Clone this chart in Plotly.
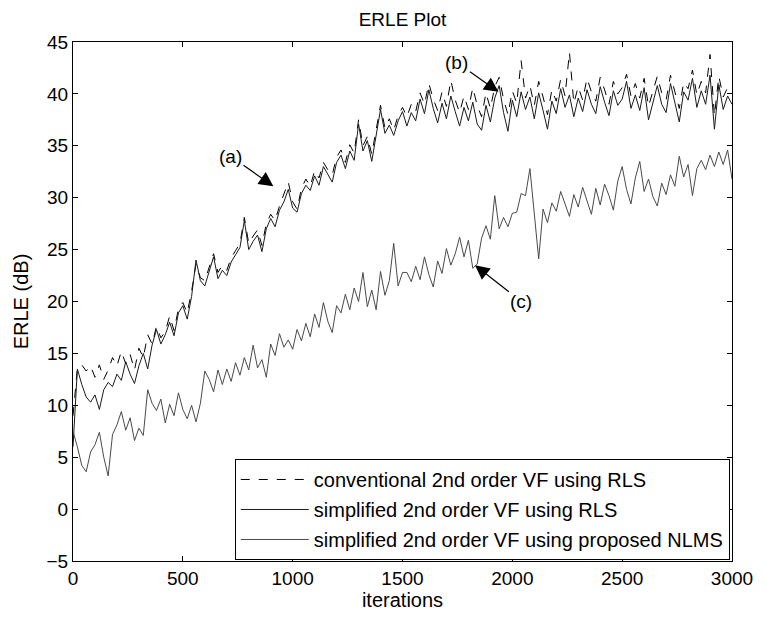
import plotly.graph_objects as go

iterations = list(range(0, 3001, 20))

erle_conventional_rls = [
    9.0, 13.6, 13.9, 13.3, 13.8, 12.7, 13.9, 12.5, 13.4, 14.6,
    13.8, 15.2, 14.0, 14.9, 13.4, 15.5, 14.6, 16.8, 15.9, 17.6,
    16.5, 17.1, 18.6, 17.2, 19.3, 19.9, 18.9, 21.0, 23.6, 22.3,
    22.0, 23.4, 24.6, 22.8, 23.5, 23.0, 24.2, 24.9, 25.6, 28.1,
    25.6, 26.3, 26.9, 25.4, 27.5, 28.4, 27.8, 29.2, 30.4, 31.5,
    29.6, 28.9, 30.9, 31.8, 31.1, 32.6, 31.9, 33.4, 32.7, 32.2,
    33.9, 34.6, 33.4, 35.1, 34.3, 37.5, 35.0, 35.9, 34.2, 36.5,
    38.9, 36.7, 37.6, 36.5, 37.9, 38.7, 37.8, 39.0, 38.3, 40.1,
    39.0, 41.0, 39.5, 38.4, 40.2, 38.8, 41.3, 39.4, 38.2, 39.8,
    38.5, 40.6, 38.9, 37.8, 40.1, 38.6, 40.7, 41.6, 39.5, 38.0,
    40.3, 39.1, 43.2, 39.6, 40.8, 38.9, 41.2, 39.7, 38.0, 40.4,
    39.3, 41.4, 39.8, 44.0, 39.1, 40.7, 39.4, 41.5, 40.2, 39.3,
    41.6, 40.4, 39.0, 41.2, 40.0, 40.6, 41.9, 39.8, 41.0, 39.6,
    41.5, 38.8, 40.3, 41.7, 40.1, 39.4, 41.8, 40.2, 38.6, 41.1,
    40.5, 42.3, 39.9, 41.2, 40.1, 43.8, 37.9, 41.7, 39.7, 40.6,
    40.0,
]

erle_simplified_rls = [
    6.0, 13.5, 12.0, 10.8, 10.3, 11.0, 9.6, 11.5, 12.2, 11.8,
    13.0, 12.4, 14.2, 13.0, 12.1, 13.8, 15.0, 13.5, 15.8, 17.3,
    15.9, 16.8, 18.0, 16.7, 18.9, 19.6, 18.3, 20.5, 24.0, 22.0,
    21.5, 23.0, 24.3, 22.2, 23.0, 22.5, 23.8, 24.5, 25.2, 27.8,
    25.0, 25.8, 26.4, 24.8, 27.0, 28.0, 27.2, 28.8, 29.6, 30.8,
    29.0, 28.6, 30.4, 31.2, 30.7, 32.1, 31.2, 33.0, 32.2, 31.5,
    33.4, 34.1, 32.8, 34.5, 33.6, 37.1, 34.5, 35.5, 33.5, 36.0,
    38.5, 36.2, 37.0, 36.0, 37.4, 38.3, 36.9, 38.2, 37.4, 39.5,
    38.1, 40.4, 38.6, 37.2, 39.1, 37.6, 39.8, 38.3, 36.9, 38.7,
    37.4, 39.2, 37.1, 36.5, 38.9, 37.3, 39.6, 40.8, 38.2, 36.4,
    39.4, 37.8, 40.2, 38.5, 39.7, 37.6, 40.1, 38.4, 36.6, 39.3,
    38.1, 40.5, 38.7, 39.9, 37.8, 39.6, 38.3, 40.4, 39.0, 38.1,
    40.7, 39.2, 37.9, 40.3, 38.9, 39.5, 41.2, 38.6, 39.9, 38.4,
    40.6, 37.5, 39.2, 40.8, 39.0, 38.2, 41.0, 39.1, 37.3, 40.2,
    39.4, 41.5, 38.7, 40.3, 39.0, 41.8, 36.6, 40.9, 38.5, 39.8,
    39.0,
]

erle_proposed_nlms = [
    7.5, 6.0, 4.2, 3.6, 5.5, 6.2, 7.4, 5.0, 3.2, 7.2,
    8.1, 9.4, 7.6, 8.8, 6.6, 7.8, 7.1, 11.5, 10.2, 9.5,
    10.6, 8.3, 10.1, 9.0, 11.2, 9.6, 8.7, 10.0, 8.4, 10.2,
    13.3, 12.5, 11.3, 13.4, 12.0, 13.5, 12.3, 14.1, 12.9, 14.6,
    13.4, 15.8, 13.6, 14.4, 12.7, 15.9, 14.8, 16.9, 15.6, 16.3,
    15.4, 17.3, 16.2, 17.9, 16.6, 18.8, 17.5, 19.9, 18.1, 17.0,
    19.6, 18.9, 20.7, 19.2, 21.3, 20.0, 22.8, 19.5, 21.1, 19.2,
    22.9, 20.6, 22.0, 25.6, 21.5, 22.8, 22.8, 21.9, 23.4, 22.1,
    24.3, 22.6, 21.4, 23.9, 22.7, 25.1, 23.5, 24.6, 26.2, 24.3,
    25.9, 23.2, 23.6, 26.1, 27.3, 26.0, 30.2, 27.0, 28.1, 27.2,
    28.5, 28.6, 30.4, 30.2, 32.8, 28.3, 24.1, 28.9, 27.6, 29.5,
    28.7, 30.6, 29.4, 28.2, 30.3, 29.1, 31.0, 29.6, 28.4, 30.9,
    29.3, 31.3, 30.2, 28.8, 31.6, 33.0, 30.8, 29.4, 31.9, 33.5,
    30.6, 31.8, 30.1, 29.2, 31.4, 30.3, 32.2, 31.1, 34.0, 32.0,
    33.2, 30.2, 32.8, 33.6, 32.7, 34.1, 33.0, 34.4, 33.2, 34.6,
    31.8,
]

series_names = [
    "conventional 2nd order VF using RLS",
    "simplified 2nd order VF using RLS",
    "simplified 2nd order VF using proposed NLMS",
]

x_ticks = [0, 500, 1000, 1500, 2000, 2500, 3000]
y_ticks = [-5, 0, 5, 10, 15, 20, 25, 30, 35, 40, 45]

FONT = "Liberation Sans, Arial, Helvetica, sans-serif"

fig = go.Figure()
fig.add_trace(go.Scatter(
    x=iterations[:len(erle_conventional_rls)], y=erle_conventional_rls,
    mode="lines", name=series_names[0], legendgroup="a",
    line=dict(color="#000000", width=1, dash="dash"),
))
fig.add_trace(go.Scatter(
    x=iterations[:len(erle_simplified_rls)], y=erle_simplified_rls,
    mode="lines", name=series_names[1], legendgroup="b",
    line=dict(color="#1a1a1a", width=1),
))
fig.add_trace(go.Scatter(
    x=iterations[:len(erle_proposed_nlms)], y=erle_proposed_nlms,
    mode="lines", name=series_names[2], legendgroup="c",
    line=dict(color="#4a4a4a", width=1),
))

arrow_style = dict(showarrow=True, arrowhead=2, arrowsize=2.4, arrowwidth=1.2,
                   arrowcolor="#000000", xref="x", yref="y", axref="x", ayref="y",
                   font=dict(family=FONT, size=19, color="#000000"))
fig.add_annotation(text="(a)", x=912, y=31.1, ax=717, ay=34.0, **arrow_style)
fig.add_annotation(text="(b)", x=1937, y=40.2, ax=1748, ay=43.0, **arrow_style)
fig.add_annotation(text="(c)", x=1830, y=23.5, ax=2041, ay=20.0, **arrow_style)

axis_common = dict(showline=True, linecolor="#000000", linewidth=1, mirror="ticks",
                   ticks="inside", ticklen=5, tickcolor="#000000", showgrid=False,
                   zeroline=False, tickfont=dict(family=FONT, size=19, color="#000000"))

fig.update_layout(
    width=765, height=620,
    margin=dict(l=73, r=28, t=42, b=54),
    paper_bgcolor="white", plot_bgcolor="white",
    title=dict(text="ERLE Plot", x=0.5, xref="paper", y=1 - 19 / 620, yanchor="middle",
               font=dict(family=FONT, size=19, color="#000000")),
    xaxis=dict(range=[0, 3000], tickvals=x_ticks,
               title=dict(text="iterations", standoff=5,
                          font=dict(family=FONT, size=20, color="#000000")),
               **axis_common),
    yaxis=dict(range=[-5, 45], tickvals=y_ticks,
               title=dict(text="ERLE (dB)", standoff=12,
                          font=dict(family=FONT, size=20, color="#000000")),
               **axis_common),
    legend=dict(x=(236 - 73) / 664, y=(566 - 463) / 524, xanchor="left", yanchor="top",
                bgcolor="white", bordercolor="#000000", borderwidth=1,
                itemwidth=68, tracegroupgap=1,
                font=dict(family=FONT, size=20, color="#000000")),
    showlegend=True,
)

fig.write_html("out.html")
